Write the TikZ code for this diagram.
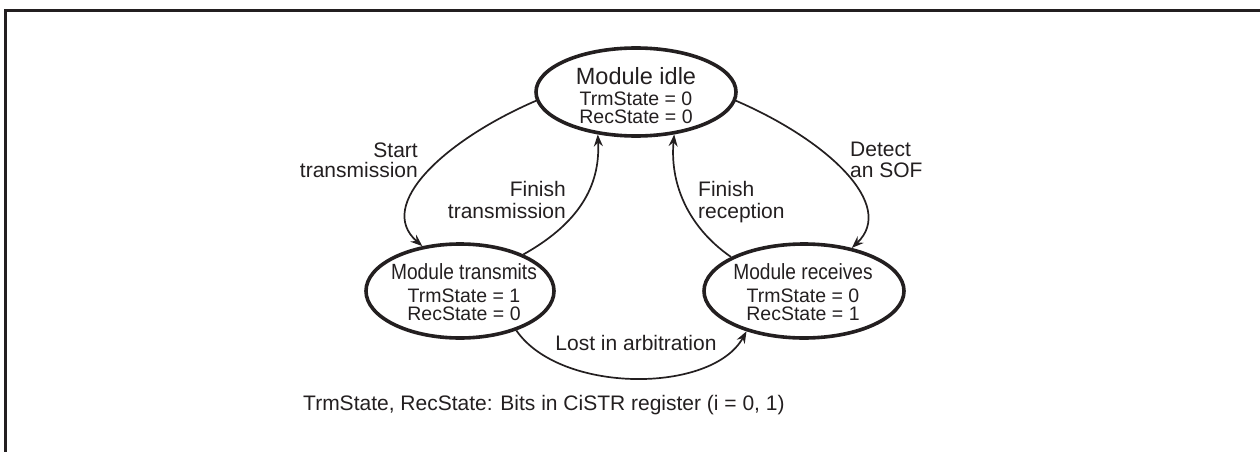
\documentclass[tikz,border=0pt]{standalone}
\usepackage{fontspec}
\setmainfont{Liberation Sans}
\usepackage{graphicx}
\usetikzlibrary{shapes.geometric,arrows.meta}
\definecolor{ink}{HTML}{231F20}
\begin{document}
\begin{tikzpicture}[x=1pt,y=-1pt,
  state/.style={draw=ink,line width=3.6pt,ellipse,inner sep=0pt},
  conn/.style={draw=ink,line width=1.7pt,-{Stealth[length=12pt,width=9pt,inset=4pt]}},
  txt/.style={inner sep=0pt,text=ink,anchor=base},
  big/.style={font=\fontsize{23.5}{24}\selectfont},
  mid/.style={font=\fontsize{22}{24}\selectfont},
  small/.style={font=\fontsize{19.5}{20}\selectfont},
  lbl/.style={font=\fontsize{21}{22}\selectfont},
]
\useasboundingbox (0,0) rectangle (1260,452);
\draw[ink,line width=2.8pt] (5.4,452) -- (5.4,10.4) -- (1260,10.4);

\node[state,minimum width=200pt,minimum height=88pt] (idle) at (636,92) {};
\node[state,minimum width=188pt,minimum height=94pt] (trans) at (460,291) {};
\node[state,minimum width=200pt,minimum height=94pt] (recv) at (804,291) {};

\node[txt,big] (idleT) at (636,84) {Module idle};
\node[txt,small] (idleA) at (636,105) {TrmState = 0};
\node[txt,small] (idleB) at (636,123) {RecState = 0};

\node[txt,mid] (transT) at (464,279) {\scalebox{0.87}[1]{Module transmits}};
\node[txt,small] (transA) at (464,302) {TrmState = 1};
\node[txt,small] (transB) at (464,320) {RecState = 0};

\node[txt,mid] (recvT) at (803,279) {\scalebox{0.87}[1]{Module receives}};
\node[txt,small] (recvA) at (803,302) {TrmState = 0};
\node[txt,small] (recvB) at (803,320) {RecState = 1};

\node[txt,lbl,anchor=base east] (st1) at (418,157) {Start};
\node[txt,lbl,anchor=base east] (st2) at (418,177) {transmission};
\node[txt,lbl,anchor=base west] (de1) at (850,156) {Detect};
\node[txt,lbl,anchor=base west] (de2) at (850,177) {an SOF};
\node[txt,lbl,anchor=base east] (ft1) at (566,196) {Finish};
\node[txt,lbl,anchor=base east] (ft2) at (566,218) {transmission};
\node[txt,lbl,anchor=base west] (fr1) at (698,196) {Finish};
\node[txt,lbl,anchor=base west] (fr2) at (698,218) {reception};
\node[txt,lbl] (lost) at (636,350) {Lost in arbitration};
\node[txt,lbl,anchor=base west] (note) at (303,410) {TrmState, RecState: Bits in CiSTR register (i = 0, 1)};

\draw[conn] (idle.185) .. controls (445,140) and (375,205) .. (trans.130);
\draw[conn] (idle.-5) .. controls (827,140) and (897,205) .. (recv.42);
\draw[conn] (trans.30) .. controls (585,220) and (600,180) .. (idle.228);
\draw[conn] (recv.155) .. controls (685,225) and (670,180) .. (idle.312);
\draw[conn] (trans.-35) .. controls (560,394) and (712,394) .. (recv.215);
\end{tikzpicture}
\end{document}
